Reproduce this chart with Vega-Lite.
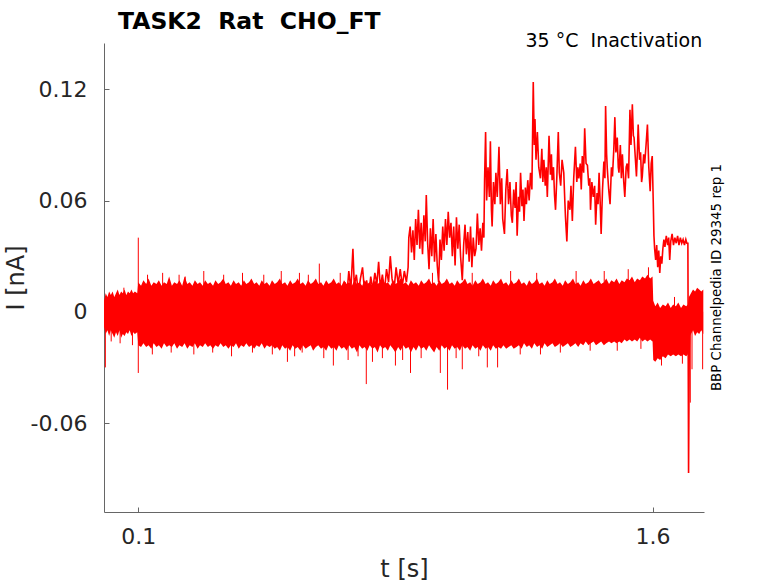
{
  "$schema": "https://vega.github.io/schema/vega-lite/v6.json",
  "description": "TASK2 Rat CHO_FT inactivation current traces at 35 C.",
  "width": 600,
  "height": 469,
  "autosize": {"type": "none"},
  "padding": {"left": 104, "top": 43, "right": 74, "bottom": 71},
  "background": "white",
  "title": {
    "text": "TASK2\u00a0 Rat\u00a0 CHO_FT",
    "anchor": "start",
    "frame": "group",
    "font": "DejaVu Sans",
    "fontSize": 23.5,
    "fontWeight": "bold",
    "color": "#000000",
    "dx": 14
  },
  "datasets": {
    "band": [
      {"t":0.000,"hi":0.006,"lo":-0.008},{"t":0.005,"hi":0.010,"lo":-0.012},{"t":0.010,"hi":0.008,"lo":-0.010},{"t":0.015,"hi":0.011,"lo":-0.013},
      {"t":0.020,"hi":0.009,"lo":-0.010},{"t":0.025,"hi":0.011,"lo":-0.012},{"t":0.030,"hi":0.008,"lo":-0.014},{"t":0.035,"hi":0.010,"lo":-0.011},
      {"t":0.040,"hi":0.012,"lo":-0.013},{"t":0.045,"hi":0.009,"lo":-0.010},{"t":0.050,"hi":0.011,"lo":-0.014},{"t":0.055,"hi":0.010,"lo":-0.012},
      {"t":0.060,"hi":0.012,"lo":-0.013},{"t":0.065,"hi":0.009,"lo":-0.011},{"t":0.070,"hi":0.011,"lo":-0.012},{"t":0.075,"hi":0.010,"lo":-0.010},
      {"t":0.080,"hi":0.012,"lo":-0.013},{"t":0.085,"hi":0.010,"lo":-0.011},{"t":0.090,"hi":0.011,"lo":-0.012},{"t":0.097,"hi":0.010,"lo":-0.011},
      {"t":0.100,"hi":0.016,"lo":-0.018},{"t":0.108,"hi":0.014,"lo":-0.019},{"t":0.115,"hi":0.017,"lo":-0.017},{"t":0.123,"hi":0.015,"lo":-0.019},
      {"t":0.130,"hi":0.018,"lo":-0.018},{"t":0.138,"hi":0.014,"lo":-0.020},{"t":0.145,"hi":0.016,"lo":-0.017},{"t":0.153,"hi":0.015,"lo":-0.019},
      {"t":0.160,"hi":0.017,"lo":-0.018},{"t":0.168,"hi":0.014,"lo":-0.020},{"t":0.175,"hi":0.016,"lo":-0.017},{"t":0.183,"hi":0.015,"lo":-0.019},
      {"t":0.190,"hi":0.019,"lo":-0.018},{"t":0.198,"hi":0.014,"lo":-0.019},{"t":0.205,"hi":0.016,"lo":-0.017},{"t":0.213,"hi":0.015,"lo":-0.020},
      {"t":0.220,"hi":0.017,"lo":-0.018},{"t":0.228,"hi":0.014,"lo":-0.019},{"t":0.235,"hi":0.019,"lo":-0.017},{"t":0.243,"hi":0.015,"lo":-0.020},
      {"t":0.250,"hi":0.016,"lo":-0.018},{"t":0.258,"hi":0.014,"lo":-0.019},{"t":0.265,"hi":0.017,"lo":-0.017},{"t":0.273,"hi":0.015,"lo":-0.020},
      {"t":0.280,"hi":0.016,"lo":-0.018},{"t":0.288,"hi":0.014,"lo":-0.019},{"t":0.295,"hi":0.017,"lo":-0.017},{"t":0.303,"hi":0.015,"lo":-0.019},
      {"t":0.310,"hi":0.016,"lo":-0.018},{"t":0.318,"hi":0.014,"lo":-0.020},{"t":0.325,"hi":0.017,"lo":-0.018},{"t":0.333,"hi":0.015,"lo":-0.019},
      {"t":0.340,"hi":0.016,"lo":-0.017},{"t":0.348,"hi":0.018,"lo":-0.019},{"t":0.355,"hi":0.015,"lo":-0.018},{"t":0.363,"hi":0.016,"lo":-0.020},
      {"t":0.370,"hi":0.014,"lo":-0.018},{"t":0.378,"hi":0.017,"lo":-0.019},{"t":0.385,"hi":0.015,"lo":-0.017},{"t":0.393,"hi":0.016,"lo":-0.020},
      {"t":0.400,"hi":0.014,"lo":-0.018},{"t":0.408,"hi":0.017,"lo":-0.019},{"t":0.415,"hi":0.015,"lo":-0.017},{"t":0.423,"hi":0.016,"lo":-0.019},
      {"t":0.430,"hi":0.018,"lo":-0.018},{"t":0.438,"hi":0.015,"lo":-0.020},{"t":0.445,"hi":0.016,"lo":-0.018},{"t":0.453,"hi":0.014,"lo":-0.019},
      {"t":0.460,"hi":0.017,"lo":-0.017},{"t":0.468,"hi":0.015,"lo":-0.020},{"t":0.475,"hi":0.016,"lo":-0.018},{"t":0.483,"hi":0.014,"lo":-0.019},
      {"t":0.490,"hi":0.017,"lo":-0.018},{"t":0.498,"hi":0.015,"lo":-0.020},{"t":0.505,"hi":0.016,"lo":-0.019},{"t":0.513,"hi":0.018,"lo":-0.021},
      {"t":0.520,"hi":0.015,"lo":-0.018},{"t":0.528,"hi":0.016,"lo":-0.020},{"t":0.535,"hi":0.014,"lo":-0.019},{"t":0.543,"hi":0.017,"lo":-0.021},
      {"t":0.550,"hi":0.015,"lo":-0.018},{"t":0.558,"hi":0.016,"lo":-0.020},{"t":0.565,"hi":0.018,"lo":-0.019},{"t":0.573,"hi":0.015,"lo":-0.021},
      {"t":0.580,"hi":0.016,"lo":-0.018},{"t":0.588,"hi":0.014,"lo":-0.020},{"t":0.595,"hi":0.017,"lo":-0.019},{"t":0.603,"hi":0.015,"lo":-0.018},
      {"t":0.610,"hi":0.016,"lo":-0.021},{"t":0.618,"hi":0.018,"lo":-0.019},{"t":0.625,"hi":0.015,"lo":-0.018},{"t":0.633,"hi":0.016,"lo":-0.020},
      {"t":0.640,"hi":0.014,"lo":-0.019},{"t":0.648,"hi":0.017,"lo":-0.021},{"t":0.655,"hi":0.015,"lo":-0.018},{"t":0.663,"hi":0.016,"lo":-0.020},
      {"t":0.670,"hi":0.018,"lo":-0.019},{"t":0.678,"hi":0.015,"lo":-0.021},{"t":0.685,"hi":0.016,"lo":-0.018},{"t":0.693,"hi":0.014,"lo":-0.020},
      {"t":0.700,"hi":0.017,"lo":-0.019},{"t":0.708,"hi":0.015,"lo":-0.021},{"t":0.715,"hi":0.016,"lo":-0.018},{"t":0.723,"hi":0.014,"lo":-0.020},
      {"t":0.730,"hi":0.017,"lo":-0.019},{"t":0.738,"hi":0.015,"lo":-0.022},{"t":0.745,"hi":0.016,"lo":-0.018},{"t":0.753,"hi":0.014,"lo":-0.020},
      {"t":0.760,"hi":0.017,"lo":-0.019},{"t":0.768,"hi":0.015,"lo":-0.021},{"t":0.775,"hi":0.016,"lo":-0.018},{"t":0.783,"hi":0.014,"lo":-0.020},
      {"t":0.790,"hi":0.017,"lo":-0.019},{"t":0.798,"hi":0.015,"lo":-0.022},{"t":0.805,"hi":0.016,"lo":-0.018},{"t":0.813,"hi":0.018,"lo":-0.020},
      {"t":0.820,"hi":0.015,"lo":-0.019},{"t":0.828,"hi":0.016,"lo":-0.021},{"t":0.835,"hi":0.014,"lo":-0.018},{"t":0.843,"hi":0.017,"lo":-0.020},
      {"t":0.850,"hi":0.015,"lo":-0.022},{"t":0.858,"hi":0.016,"lo":-0.019},{"t":0.865,"hi":0.018,"lo":-0.021},{"t":0.873,"hi":0.015,"lo":-0.018},
      {"t":0.880,"hi":0.016,"lo":-0.020},{"t":0.888,"hi":0.014,"lo":-0.019},{"t":0.895,"hi":0.017,"lo":-0.022},{"t":0.903,"hi":0.015,"lo":-0.019},
      {"t":0.910,"hi":0.016,"lo":-0.021},{"t":0.918,"hi":0.014,"lo":-0.018},{"t":0.925,"hi":0.017,"lo":-0.020},{"t":0.933,"hi":0.015,"lo":-0.019},
      {"t":0.940,"hi":0.016,"lo":-0.021},{"t":0.948,"hi":0.018,"lo":-0.018},{"t":0.955,"hi":0.015,"lo":-0.020},{"t":0.963,"hi":0.016,"lo":-0.022},
      {"t":0.970,"hi":0.014,"lo":-0.019},{"t":0.978,"hi":0.017,"lo":-0.021},{"t":0.985,"hi":0.015,"lo":-0.018},{"t":0.993,"hi":0.016,"lo":-0.020},
      {"t":1.000,"hi":0.018,"lo":-0.019},{"t":1.008,"hi":0.015,"lo":-0.021},{"t":1.015,"hi":0.016,"lo":-0.018},{"t":1.023,"hi":0.014,"lo":-0.020},
      {"t":1.030,"hi":0.017,"lo":-0.019},{"t":1.038,"hi":0.015,"lo":-0.021},{"t":1.045,"hi":0.016,"lo":-0.018},{"t":1.053,"hi":0.018,"lo":-0.020},
      {"t":1.060,"hi":0.015,"lo":-0.019},{"t":1.068,"hi":0.016,"lo":-0.021},{"t":1.075,"hi":0.014,"lo":-0.018},{"t":1.083,"hi":0.017,"lo":-0.020},
      {"t":1.090,"hi":0.015,"lo":-0.019},{"t":1.098,"hi":0.016,"lo":-0.021},{"t":1.105,"hi":0.018,"lo":-0.018},{"t":1.113,"hi":0.015,"lo":-0.020},
      {"t":1.120,"hi":0.016,"lo":-0.019},{"t":1.128,"hi":0.014,"lo":-0.021},{"t":1.135,"hi":0.017,"lo":-0.018},{"t":1.143,"hi":0.015,"lo":-0.020},
      {"t":1.150,"hi":0.016,"lo":-0.019},{"t":1.158,"hi":0.018,"lo":-0.020},{"t":1.165,"hi":0.015,"lo":-0.018},{"t":1.173,"hi":0.016,"lo":-0.020},
      {"t":1.180,"hi":0.014,"lo":-0.019},{"t":1.188,"hi":0.017,"lo":-0.018},{"t":1.195,"hi":0.015,"lo":-0.020},{"t":1.203,"hi":0.016,"lo":-0.019},
      {"t":1.210,"hi":0.018,"lo":-0.018},{"t":1.218,"hi":0.015,"lo":-0.020},{"t":1.225,"hi":0.016,"lo":-0.017},{"t":1.233,"hi":0.014,"lo":-0.019},
      {"t":1.240,"hi":0.017,"lo":-0.018},{"t":1.248,"hi":0.015,"lo":-0.020},{"t":1.255,"hi":0.016,"lo":-0.017},{"t":1.263,"hi":0.018,"lo":-0.019},
      {"t":1.270,"hi":0.015,"lo":-0.018},{"t":1.278,"hi":0.016,"lo":-0.020},{"t":1.285,"hi":0.014,"lo":-0.017},{"t":1.293,"hi":0.017,"lo":-0.019},
      {"t":1.300,"hi":0.015,"lo":-0.018},{"t":1.308,"hi":0.016,"lo":-0.017},{"t":1.315,"hi":0.018,"lo":-0.019},{"t":1.323,"hi":0.015,"lo":-0.018},
      {"t":1.330,"hi":0.016,"lo":-0.017},{"t":1.338,"hi":0.014,"lo":-0.019},{"t":1.345,"hi":0.017,"lo":-0.018},{"t":1.353,"hi":0.015,"lo":-0.017},
      {"t":1.360,"hi":0.016,"lo":-0.019},{"t":1.368,"hi":0.018,"lo":-0.018},{"t":1.375,"hi":0.015,"lo":-0.017},{"t":1.383,"hi":0.016,"lo":-0.019},
      {"t":1.390,"hi":0.014,"lo":-0.017},{"t":1.398,"hi":0.017,"lo":-0.018},{"t":1.405,"hi":0.015,"lo":-0.016},{"t":1.413,"hi":0.016,"lo":-0.018},
      {"t":1.420,"hi":0.018,"lo":-0.017},{"t":1.428,"hi":0.015,"lo":-0.016},{"t":1.435,"hi":0.016,"lo":-0.018},{"t":1.443,"hi":0.017,"lo":-0.017},
      {"t":1.450,"hi":0.015,"lo":-0.016},{"t":1.458,"hi":0.016,"lo":-0.018},{"t":1.465,"hi":0.018,"lo":-0.017},{"t":1.473,"hi":0.015,"lo":-0.016},
      {"t":1.480,"hi":0.017,"lo":-0.017},{"t":1.488,"hi":0.016,"lo":-0.016},{"t":1.495,"hi":0.018,"lo":-0.017},{"t":1.503,"hi":0.015,"lo":-0.016},
      {"t":1.510,"hi":0.017,"lo":-0.017},{"t":1.518,"hi":0.016,"lo":-0.015},{"t":1.525,"hi":0.018,"lo":-0.016},{"t":1.533,"hi":0.017,"lo":-0.015},
      {"t":1.540,"hi":0.019,"lo":-0.016},{"t":1.548,"hi":0.016,"lo":-0.015},{"t":1.555,"hi":0.018,"lo":-0.016},{"t":1.563,"hi":0.017,"lo":-0.014},
      {"t":1.570,"hi":0.019,"lo":-0.016},{"t":1.578,"hi":0.018,"lo":-0.015},{"t":1.585,"hi":0.020,"lo":-0.016},{"t":1.593,"hi":0.018,"lo":-0.015},
      {"t":1.600,"hi":0.019,"lo":-0.016},{"t":1.602,"hi":0.006,"lo":-0.026},{"t":1.608,"hi":0.003,"lo":-0.027},{"t":1.615,"hi":0.005,"lo":-0.025},
      {"t":1.622,"hi":0.002,"lo":-0.026},{"t":1.630,"hi":0.004,"lo":-0.024},{"t":1.638,"hi":0.003,"lo":-0.025},{"t":1.645,"hi":0.005,"lo":-0.023},
      {"t":1.653,"hi":0.002,"lo":-0.024},{"t":1.660,"hi":0.004,"lo":-0.023},{"t":1.668,"hi":0.003,"lo":-0.024},{"t":1.675,"hi":0.005,"lo":-0.023},
      {"t":1.683,"hi":0.002,"lo":-0.024},{"t":1.690,"hi":0.004,"lo":-0.023},{"t":1.698,"hi":0.003,"lo":-0.024},{"t":1.703,"hi":0.004,"lo":-0.023},
      {"t":1.706,"hi":0.008,"lo":-0.014},{"t":1.712,"hi":0.010,"lo":-0.012},{"t":1.718,"hi":0.012,"lo":-0.010},{"t":1.724,"hi":0.011,"lo":-0.013},
      {"t":1.730,"hi":0.013,"lo":-0.011},{"t":1.736,"hi":0.012,"lo":-0.012},{"t":1.742,"hi":0.011,"lo":-0.010},{"t":1.748,"hi":0.012,"lo":-0.012}
    ],
    "spikes": [
      {"t":0.004,"lo":-0.030,"hi":0.004},{"t":0.047,"lo":-0.017,"hi":0.0},{"t":0.100,"lo":-0.033,"hi":0.040},
      {"t":0.237,"lo":0.0,"hi":0.019},{"t":0.535,"lo":-0.027,"hi":0.0},{"t":0.570,"lo":0.0,"hi":0.021},
      {"t":0.578,"lo":-0.022,"hi":0.0},{"t":0.628,"lo":0.0,"hi":0.026},{"t":0.669,"lo":-0.029,"hi":0.0},
      {"t":0.765,"lo":-0.039,"hi":0.0},{"t":0.783,"lo":-0.027,"hi":0.0},{"t":0.850,"lo":-0.029,"hi":0.0},
      {"t":0.894,"lo":-0.033,"hi":0.0},{"t":0.981,"lo":-0.033,"hi":0.0},{"t":1.002,"lo":-0.042,"hi":0.0},
      {"t":1.045,"lo":-0.031,"hi":0.0},{"t":1.118,"lo":-0.030,"hi":0.0},{"t":1.148,"lo":-0.030,"hi":0.0},
      {"t":1.273,"lo":-0.023,"hi":0.0},{"t":1.710,"lo":-0.049,"hi":0.0},{"t":1.715,"lo":-0.031,"hi":0.0},
      {"t":1.746,"lo":-0.031,"hi":0.0},
      {"t":0.021,"lo":-0.016,"hi":0.0},{"t":0.058,"lo":0.0,"hi":0.013},{"t":0.083,"lo":-0.018,"hi":0.0},
      {"t":0.127,"lo":0.0,"hi":0.020},{"t":0.141,"lo":-0.023,"hi":0.0},{"t":0.171,"lo":0.0,"hi":0.021},
      {"t":0.196,"lo":-0.022,"hi":0.0},{"t":0.219,"lo":0.0,"hi":0.020},{"t":0.262,"lo":-0.023,"hi":0.0},
      {"t":0.291,"lo":0.0,"hi":0.022},{"t":0.317,"lo":-0.022,"hi":0.0},{"t":0.349,"lo":0.0,"hi":0.020},
      {"t":0.372,"lo":-0.024,"hi":0.0},{"t":0.404,"lo":0.0,"hi":0.021},{"t":0.433,"lo":-0.022,"hi":0.0},
      {"t":0.466,"lo":0.0,"hi":0.020},{"t":0.491,"lo":-0.023,"hi":0.0},{"t":0.517,"lo":0.0,"hi":0.022},
      {"t":0.556,"lo":-0.024,"hi":0.0},{"t":0.596,"lo":0.0,"hi":0.020},{"t":0.641,"lo":-0.025,"hi":0.0},
      {"t":0.689,"lo":0.0,"hi":0.021},{"t":0.712,"lo":-0.026,"hi":0.0},{"t":0.741,"lo":-0.024,"hi":0.0},
      {"t":0.812,"lo":-0.025,"hi":0.0},{"t":0.871,"lo":-0.026,"hi":0.0},{"t":0.925,"lo":-0.025,"hi":0.0},
      {"t":0.958,"lo":0.0,"hi":0.021},{"t":1.027,"lo":-0.025,"hi":0.0},{"t":1.074,"lo":0.0,"hi":0.021},
      {"t":1.093,"lo":-0.024,"hi":0.0},{"t":1.186,"lo":0.0,"hi":0.022},{"t":1.214,"lo":-0.023,"hi":0.0},
      {"t":1.262,"lo":0.0,"hi":0.021},{"t":1.331,"lo":-0.022,"hi":0.0},{"t":1.377,"lo":0.0,"hi":0.022},
      {"t":1.418,"lo":-0.021,"hi":0.0},{"t":1.459,"lo":0.0,"hi":0.022},{"t":1.497,"lo":-0.021,"hi":0.0},
      {"t":1.529,"lo":0.0,"hi":0.023},{"t":1.566,"lo":-0.020,"hi":0.0},{"t":1.588,"lo":0.0,"hi":0.024},
      {"t":1.626,"lo":-0.029,"hi":0.0},{"t":1.664,"lo":0.0,"hi":0.008},{"t":1.687,"lo":-0.028,"hi":0.0}
    ],
    "trace": [
      {"t":0.690,"I":0.010},{"t":0.696,"I":0.004},{"t":0.702,"I":0.016},{"t":0.708,"I":0.008},{"t":0.714,"I":0.022},
      {"t":0.720,"I":0.012},{"t":0.726,"I":0.034},{"t":0.730,"I":0.014},{"t":0.736,"I":0.020},{"t":0.742,"I":0.010},
      {"t":0.748,"I":0.018},{"t":0.754,"I":0.024},{"t":0.760,"I":0.011},{"t":0.766,"I":0.017},{"t":0.772,"I":0.009},
      {"t":0.778,"I":0.019},{"t":0.784,"I":0.012},{"t":0.790,"I":0.021},{"t":0.796,"I":0.015},{"t":0.801,"I":0.027},
      {"t":0.806,"I":0.013},{"t":0.812,"I":0.020},{"t":0.818,"I":0.011},{"t":0.824,"I":0.023},{"t":0.830,"I":0.016},
      {"t":0.835,"I":0.030},{"t":0.840,"I":0.018},{"t":0.846,"I":0.012},{"t":0.852,"I":0.024},{"t":0.858,"I":0.015},
      {"t":0.864,"I":0.023},{"t":0.870,"I":0.014},{"t":0.876,"I":0.022},{"t":0.882,"I":0.016},{"t":0.887,"I":0.024},
      {"t":0.889,"I":0.040},{"t":0.893,"I":0.046},{"t":0.897,"I":0.032},{"t":0.901,"I":0.044},{"t":0.905,"I":0.028},
      {"t":0.909,"I":0.050},{"t":0.913,"I":0.036},{"t":0.917,"I":0.055},{"t":0.921,"I":0.034},{"t":0.925,"I":0.048},
      {"t":0.929,"I":0.031},{"t":0.933,"I":0.052},{"t":0.937,"I":0.038},{"t":0.940,"I":0.063},{"t":0.944,"I":0.037},
      {"t":0.948,"I":0.023},{"t":0.952,"I":0.045},{"t":0.956,"I":0.030},{"t":0.960,"I":0.050},{"t":0.964,"I":0.027},
      {"t":0.968,"I":0.042},{"t":0.972,"I":0.025},{"t":0.976,"I":0.016},{"t":0.980,"I":0.039},{"t":0.984,"I":0.028},
      {"t":0.988,"I":0.046},{"t":0.992,"I":0.033},{"t":0.996,"I":0.050},{"t":1.000,"I":0.036},{"t":1.004,"I":0.054},
      {"t":1.008,"I":0.040},{"t":1.012,"I":0.048},{"t":1.016,"I":0.030},{"t":1.020,"I":0.046},{"t":1.024,"I":0.025},
      {"t":1.028,"I":0.051},{"t":1.032,"I":0.034},{"t":1.036,"I":0.047},{"t":1.040,"I":0.030},{"t":1.045,"I":0.017},
      {"t":1.049,"I":0.036},{"t":1.053,"I":0.047},{"t":1.057,"I":0.031},{"t":1.061,"I":0.043},{"t":1.065,"I":0.027},
      {"t":1.069,"I":0.046},{"t":1.073,"I":0.024},{"t":1.077,"I":0.040},{"t":1.081,"I":0.030},{"t":1.085,"I":0.034},
      {"t":1.089,"I":0.053},{"t":1.093,"I":0.036},{"t":1.097,"I":0.045},{"t":1.101,"I":0.033},{"t":1.105,"I":0.048},
      {"t":1.108,"I":0.040},{"t":1.110,"I":0.071},{"t":1.113,"I":0.097},{"t":1.116,"I":0.060},{"t":1.120,"I":0.078},
      {"t":1.124,"I":0.062},{"t":1.127,"I":0.092},{"t":1.130,"I":0.055},{"t":1.132,"I":0.046},{"t":1.136,"I":0.070},
      {"t":1.140,"I":0.058},{"t":1.143,"I":0.075},{"t":1.147,"I":0.062},{"t":1.152,"I":0.089},{"t":1.156,"I":0.058},
      {"t":1.160,"I":0.072},{"t":1.163,"I":0.050},{"t":1.168,"I":0.042},{"t":1.172,"I":0.066},{"t":1.176,"I":0.077},
      {"t":1.180,"I":0.058},{"t":1.184,"I":0.070},{"t":1.188,"I":0.052},{"t":1.191,"I":0.048},{"t":1.195,"I":0.066},
      {"t":1.199,"I":0.056},{"t":1.202,"I":0.070},{"t":1.205,"I":0.041},{"t":1.209,"I":0.062},{"t":1.212,"I":0.054},
      {"t":1.215,"I":0.075},{"t":1.219,"I":0.057},{"t":1.222,"I":0.066},{"t":1.225,"I":0.049},{"t":1.229,"I":0.067},
      {"t":1.232,"I":0.058},{"t":1.236,"I":0.071},{"t":1.240,"I":0.060},{"t":1.244,"I":0.075},{"t":1.248,"I":0.066},
      {"t":1.252,"I":0.124},{"t":1.255,"I":0.090},{"t":1.257,"I":0.104},{"t":1.260,"I":0.082},{"t":1.264,"I":0.097},
      {"t":1.268,"I":0.078},{"t":1.273,"I":0.072},{"t":1.277,"I":0.088},{"t":1.280,"I":0.070},{"t":1.283,"I":0.082},
      {"t":1.287,"I":0.068},{"t":1.290,"I":0.078},{"t":1.293,"I":0.062},{"t":1.298,"I":0.095},{"t":1.302,"I":0.074},
      {"t":1.305,"I":0.085},{"t":1.307,"I":0.071},{"t":1.311,"I":0.078},{"t":1.314,"I":0.063},{"t":1.317,"I":0.055},
      {"t":1.321,"I":0.074},{"t":1.325,"I":0.097},{"t":1.328,"I":0.075},{"t":1.332,"I":0.068},{"t":1.336,"I":0.082},
      {"t":1.341,"I":0.075},{"t":1.344,"I":0.060},{"t":1.346,"I":0.051},{"t":1.350,"I":0.038},{"t":1.354,"I":0.060},
      {"t":1.359,"I":0.055},{"t":1.362,"I":0.068},{"t":1.366,"I":0.049},{"t":1.370,"I":0.072},{"t":1.375,"I":0.089},
      {"t":1.379,"I":0.070},{"t":1.382,"I":0.078},{"t":1.385,"I":0.072},{"t":1.389,"I":0.080},{"t":1.392,"I":0.066},
      {"t":1.395,"I":0.084},{"t":1.399,"I":0.075},{"t":1.402,"I":0.099},{"t":1.406,"I":0.080},{"t":1.410,"I":0.079},
      {"t":1.414,"I":0.068},{"t":1.417,"I":0.072},{"t":1.419,"I":0.055},{"t":1.423,"I":0.070},{"t":1.427,"I":0.062},
      {"t":1.431,"I":0.068},{"t":1.434,"I":0.047},{"t":1.438,"I":0.064},{"t":1.441,"I":0.058},{"t":1.444,"I":0.075},
      {"t":1.447,"I":0.060},{"t":1.450,"I":0.042},{"t":1.454,"I":0.066},{"t":1.458,"I":0.081},{"t":1.461,"I":0.072},
      {"t":1.463,"I":0.111},{"t":1.466,"I":0.085},{"t":1.468,"I":0.077},{"t":1.472,"I":0.066},{"t":1.476,"I":0.058},
      {"t":1.480,"I":0.078},{"t":1.483,"I":0.073},{"t":1.487,"I":0.088},{"t":1.490,"I":0.105},{"t":1.493,"I":0.086},
      {"t":1.497,"I":0.094},{"t":1.500,"I":0.078},{"t":1.502,"I":0.075},{"t":1.506,"I":0.090},{"t":1.509,"I":0.072},
      {"t":1.512,"I":0.085},{"t":1.516,"I":0.070},{"t":1.519,"I":0.062},{"t":1.523,"I":0.078},{"t":1.526,"I":0.080},
      {"t":1.530,"I":0.072},{"t":1.534,"I":0.109},{"t":1.537,"I":0.090},{"t":1.541,"I":0.112},{"t":1.544,"I":0.095},
      {"t":1.546,"I":0.094},{"t":1.550,"I":0.082},{"t":1.553,"I":0.073},{"t":1.556,"I":0.088},{"t":1.558,"I":0.101},
      {"t":1.562,"I":0.082},{"t":1.565,"I":0.086},{"t":1.568,"I":0.070},{"t":1.570,"I":0.073},{"t":1.574,"I":0.085},
      {"t":1.577,"I":0.080},{"t":1.581,"I":0.090},{"t":1.585,"I":0.101},{"t":1.589,"I":0.078},{"t":1.593,"I":0.065},
      {"t":1.596,"I":0.080},{"t":1.599,"I":0.084},{"t":1.602,"I":0.059},{"t":1.604,"I":0.041},{"t":1.606,"I":0.034},
      {"t":1.609,"I":0.028},{"t":1.612,"I":0.036},{"t":1.615,"I":0.024},{"t":1.618,"I":0.033},{"t":1.621,"I":0.021},
      {"t":1.624,"I":0.030},{"t":1.627,"I":0.026},{"t":1.630,"I":0.034},{"t":1.633,"I":0.039},{"t":1.636,"I":0.035},
      {"t":1.640,"I":0.041},{"t":1.644,"I":0.036},{"t":1.647,"I":0.040},{"t":1.650,"I":0.028},{"t":1.653,"I":0.038},
      {"t":1.657,"I":0.042},{"t":1.661,"I":0.036},{"t":1.665,"I":0.040},{"t":1.669,"I":0.037},{"t":1.673,"I":0.041},
      {"t":1.677,"I":0.036},{"t":1.681,"I":0.040},{"t":1.685,"I":0.037},{"t":1.689,"I":0.039},{"t":1.693,"I":0.036},
      {"t":1.697,"I":0.039},{"t":1.700,"I":0.037},{"t":1.703,"I":0.037},{"t":1.705,"I":-0.087},{"t":1.707,"I":-0.020},
      {"t":1.710,"I":0.000}
    ],
    "notes": [
      {"label": "35 °C\u00a0 Inactivation"}
    ],
    "side": [
      {"label": "BBP Channelpedia ID 29345 rep 1"}
    ]
  },
  "layer": [
    {
      "data": {"name": "band"},
      "mark": {"type": "area", "color": "#ff0000", "opacity": 1},
      "encoding": {
        "x": {
          "field": "t",
          "type": "quantitative",
          "scale": {"domain": [0, 1.75], "nice": false, "zero": false},
          "axis": {
            "title": "t [s]",
            "values": [0.1, 1.6],
            "format": ".1f",
            "grid": false,
            "tickSize": -5,
            "labelPadding": 19,
            "titlePadding": 10
          }
        },
        "y": {
          "field": "hi",
          "type": "quantitative",
          "scale": {"domain": [-0.108, 0.145], "nice": false, "zero": false},
          "title": "I [nA]",
          "axis": {
            "values": [-0.06, 0, 0.06, 0.12],
            "labelExpr": "datum.value == 0 ? '0' : (datum.value < 0 ? '-' + format(-datum.value, '.2f') : format(datum.value, '.2f'))",
            "grid": false,
            "tickSize": -5,
            "labelPadding": 22,
            "titlePadding": 2
          }
        },
        "y2": {"field": "lo"}
      }
    },
    {
      "data": {"name": "spikes"},
      "mark": {"type": "rule", "color": "#ff0000", "strokeWidth": 1},
      "encoding": {
        "x": {"field": "t", "type": "quantitative", "title": "t [s]"},
        "y": {"field": "lo", "type": "quantitative", "title": "I [nA]"},
        "y2": {"field": "hi"}
      }
    },
    {
      "data": {"name": "trace"},
      "mark": {"type": "line", "color": "#ff0000", "strokeWidth": 1.6},
      "encoding": {
        "x": {"field": "t", "type": "quantitative", "title": "t [s]"},
        "y": {"field": "I", "type": "quantitative", "title": "I [nA]"}
      }
    },
    {
      "data": {"name": "notes"},
      "mark": {"type": "text", "align": "right", "baseline": "alphabetic", "font": "DejaVu Sans", "fontSize": 19, "fill": "#000000", "clip": false},
      "encoding": {
        "x": {"datum": 1.745},
        "y": {"datum": 0.1428},
        "text": {"field": "label", "type": "nominal"}
      }
    },
    {
      "data": {"name": "side"},
      "mark": {"type": "text", "align": "center", "baseline": "middle", "angle": 270, "font": "DejaVu Sans", "fontSize": 13.4, "fill": "#000000", "clip": false},
      "encoding": {
        "x": {"datum": 1.7866},
        "y": {"datum": 0.0185},
        "text": {"field": "label", "type": "nominal"}
      }
    }
  ],
  "config": {
    "view": {"stroke": null},
    "title": {"offset": -1},
    "axis": {
      "domainColor": "#666666",
      "tickColor": "#666666",
      "domainWidth": 1,
      "tickWidth": 1,
      "labelFont": "DejaVu Sans",
      "labelFontSize": 22,
      "labelColor": "#262626",
      "titleFont": "DejaVu Sans",
      "titleFontSize": 24,
      "titleFontWeight": "normal",
      "titleColor": "#262626"
    }
  }
}
